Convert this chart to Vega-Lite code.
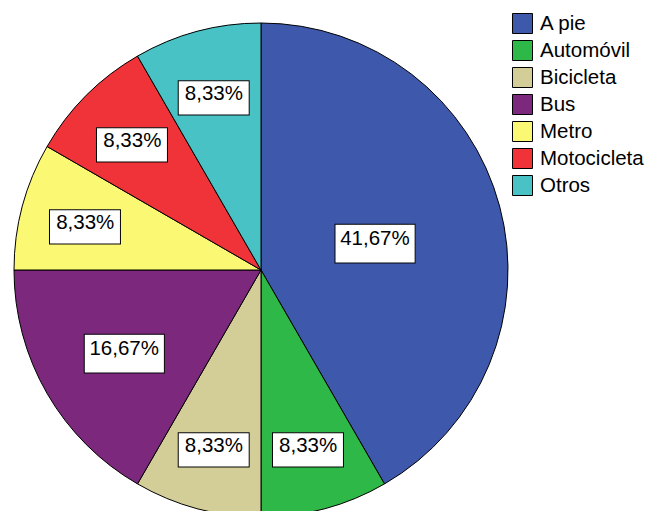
{
  "$schema": "https://vega.github.io/schema/vega-lite/v6.json",
  "width": 522,
  "height": 540,
  "padding": 0,
  "autosize": {"type": "pad"},
  "background": "white",
  "config": {"view": {"stroke": null}},
  "data": {
    "values": [
      {"modo": "A pie", "n": 5, "pct": "41,67%"},
      {"modo": "Automóvil", "n": 1, "pct": "8,33%"},
      {"modo": "Bicicleta", "n": 1, "pct": "8,33%"},
      {"modo": "Bus", "n": 2, "pct": "16,67%"},
      {"modo": "Metro", "n": 1, "pct": "8,33%"},
      {"modo": "Motocicleta", "n": 1, "pct": "8,33%"},
      {"modo": "Otros", "n": 1, "pct": "8,33%"}
    ]
  },
  "encoding": {
    "theta": {"field": "n", "type": "quantitative", "stack": true},
    "order": {"field": "modo", "type": "ordinal"}
  },
  "layer": [
    {
      "mark": {"type": "arc", "outerRadius": 247, "stroke": "black", "strokeWidth": 1},
      "encoding": {
        "color": {
          "field": "modo",
          "type": "nominal",
          "scale": {
            "domain": ["A pie", "Automóvil", "Bicicleta", "Bus", "Metro", "Motocicleta", "Otros"],
            "range": ["#3E58AC", "#2EB848", "#D3CE97", "#7C287D", "#FBF873", "#EF3338", "#48C2C5"]
          },
          "legend": {
            "orient": "none",
            "legendX": 512,
            "legendY": 13,
            "title": null,
            "padding": 0,
            "symbolType": "square",
            "symbolSize": 400,
            "symbolStrokeColor": "black",
            "symbolStrokeWidth": 1,
            "symbolOpacity": 1,
            "labelFont": "Liberation Sans",
            "labelFontSize": 20.5,
            "labelColor": "black",
            "labelOffset": 7,
            "rowPadding": 2
          }
        }
      }
    },
    {
      "mark": {"type": "text", "text": "▬", "font": "DejaVu Sans", "fill": "white", "stroke": "black", "strokeWidth": 1, "baseline": "middle", "align": "center"},
      "encoding": {
        "detail": {"field": "modo", "type": "nominal"},
        "radius": {"field": "n", "type": "quantitative", "scale": {"type": "linear", "domain": [1, 2, 5], "range": [182, 158, 118]}},
        "size": {"field": "n", "type": "quantitative", "legend": null, "scale": {"type": "linear", "domain": [1, 2, 5], "range": [93, 105, 105]}}
      }
    },
    {
      "mark": {"type": "text", "font": "Liberation Sans", "fontSize": 20.5, "fill": "black", "baseline": "middle", "align": "center"},
      "encoding": {
        "detail": {"field": "modo", "type": "nominal"},
        "radius": {"field": "n", "type": "quantitative", "scale": {"type": "linear", "domain": [1, 2, 5], "range": [182, 158, 118]}},
        "text": {"field": "pct", "type": "nominal"}
      }
    }
  ]
}
